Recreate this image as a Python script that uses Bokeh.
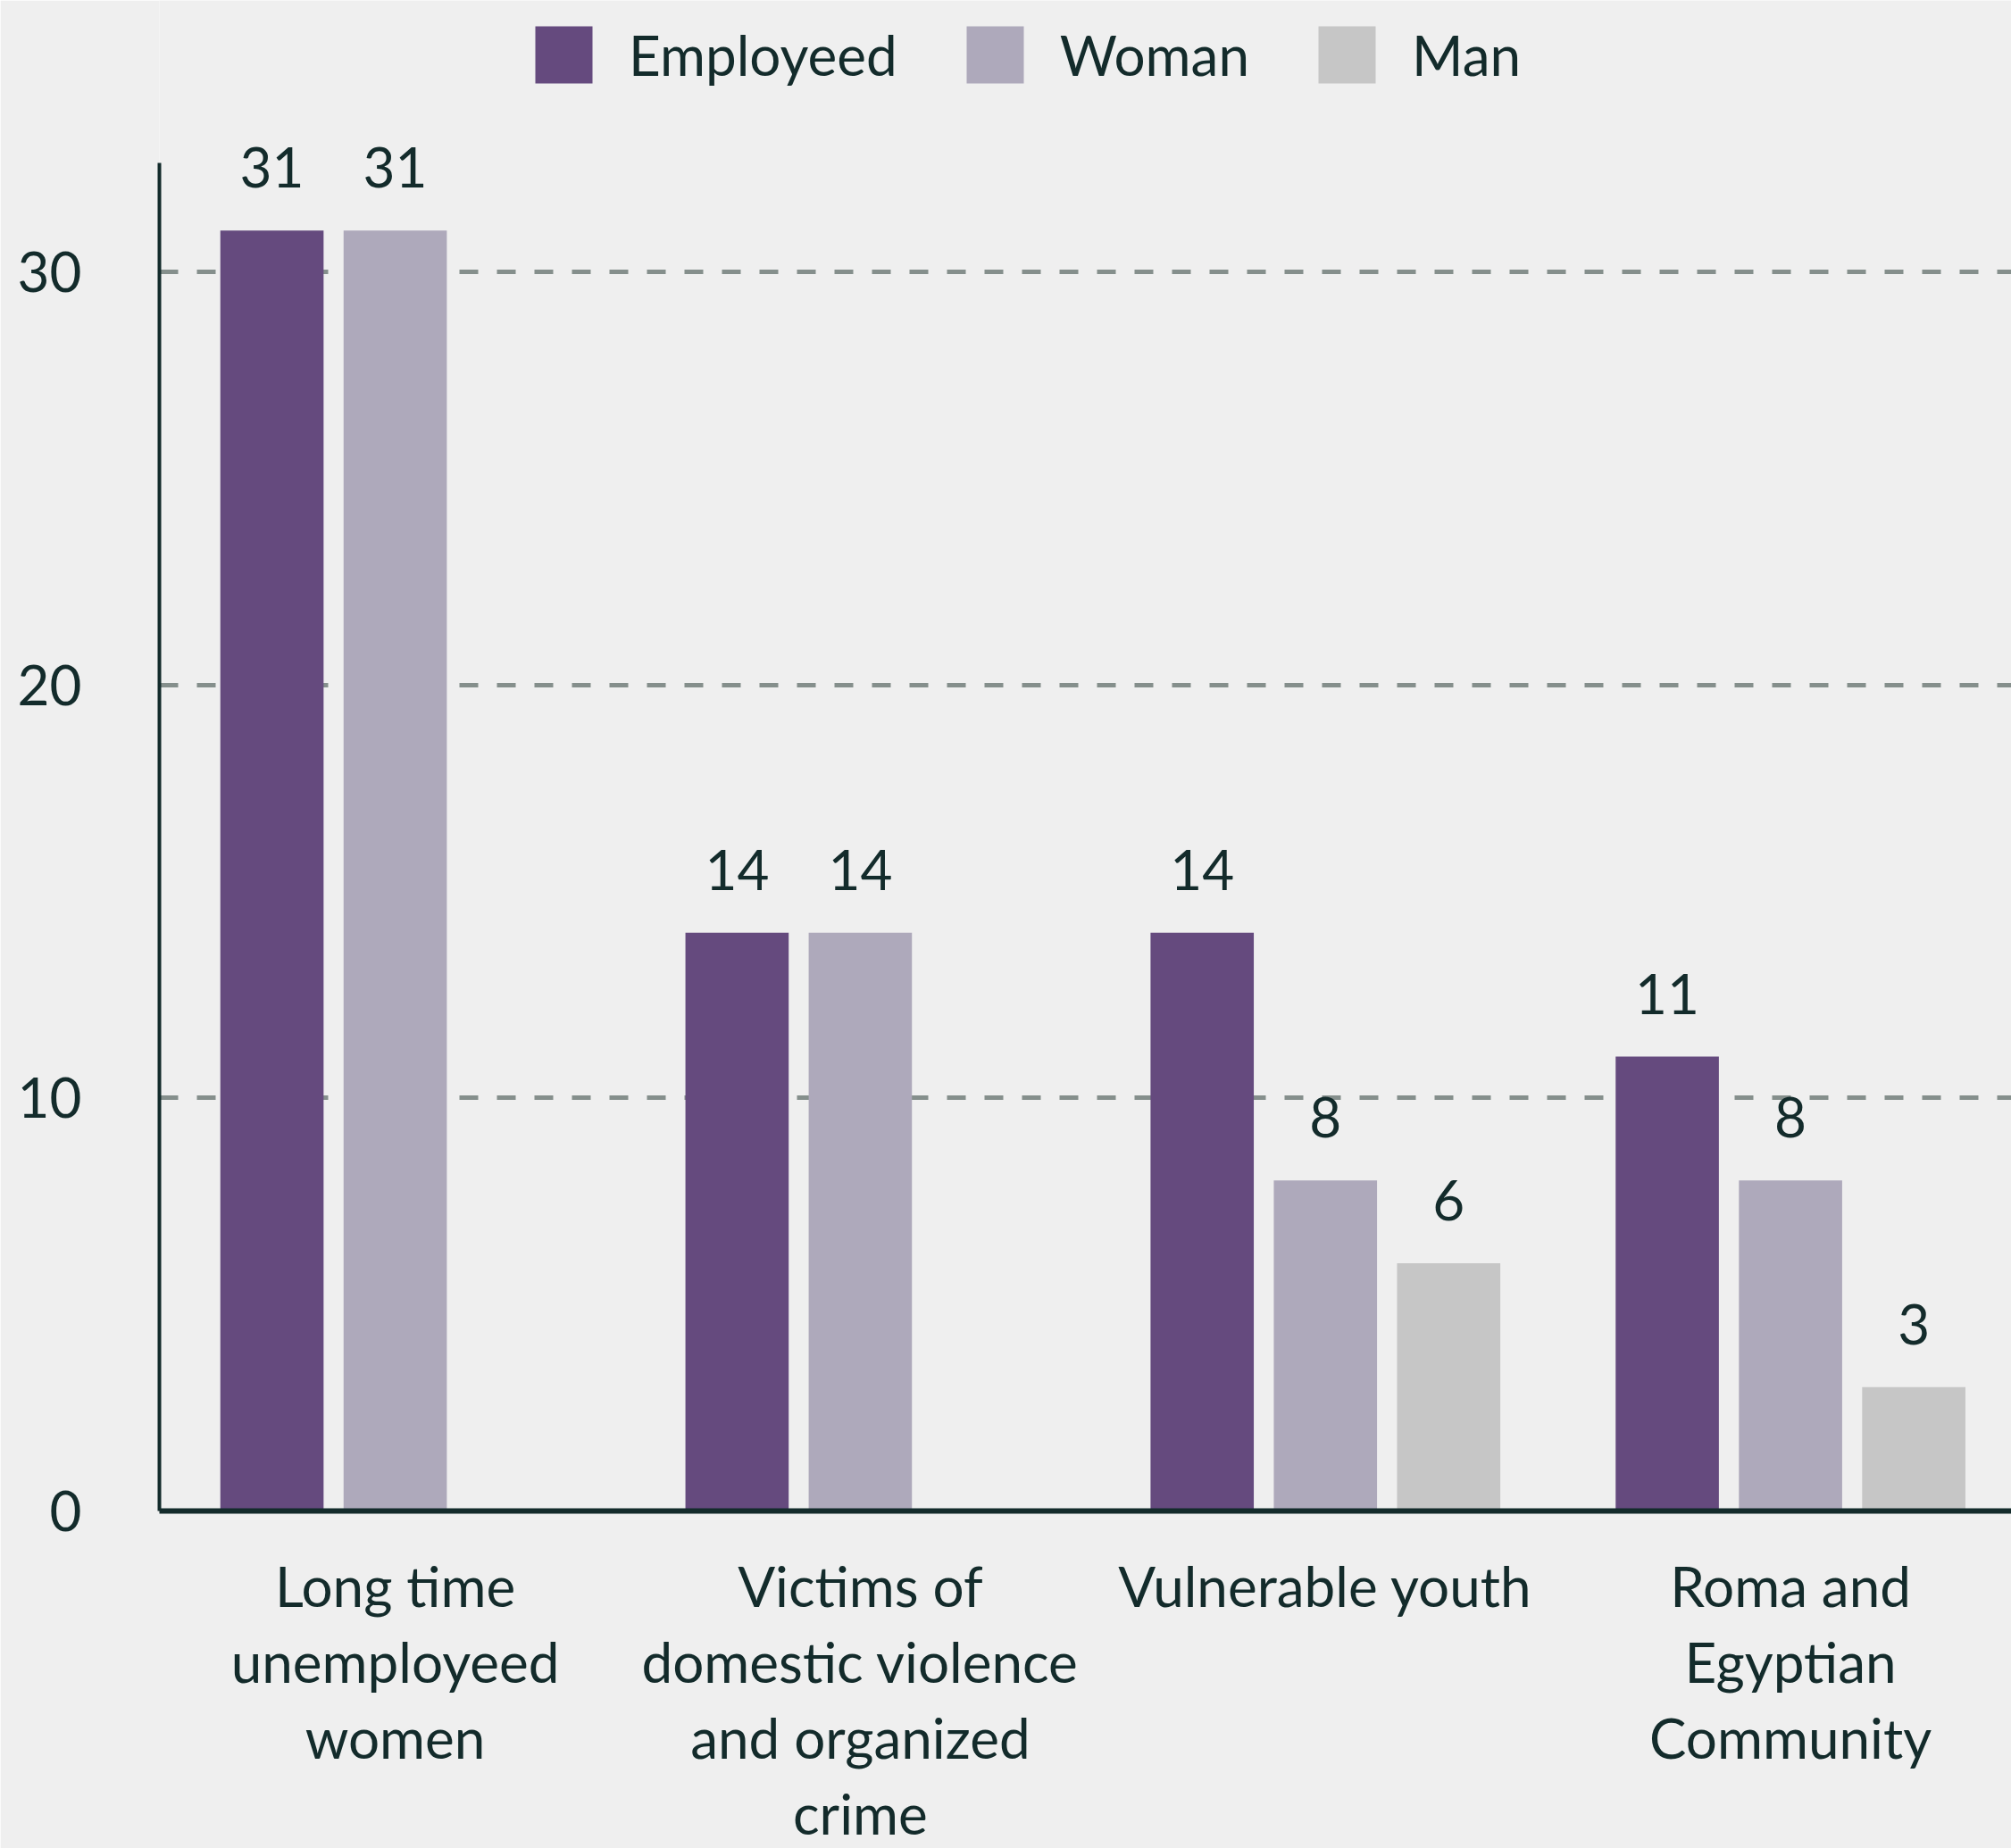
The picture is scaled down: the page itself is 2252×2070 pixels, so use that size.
import math
from bokeh.plotting import figure
from bokeh.models import (ColumnDataSource, LabelSet, Legend, LegendItem,
                          FixedTicker, Range1d)
from bokeh.core.properties import value
from bokeh.embed import file_html
from bokeh.resources import INLINE

# ---- data ----
categories = [
    "Long time\nunemployeed\nwomen",
    "Victims of\ndomestic violence\nand organized\ncrime",
    "Vulnerable youth",
    "Roma and\nEgyptian\nCommunity",
]
series_names = ["Employeed", "Woman", "Man"]
employed = [31, 14, 14, 11]
woman = [31, 14, 8, 8]
man = [None, None, 6, 3]
y_ticks = [0, 10, 20, 30]
y_axis_top = 32.64

# ---- style ----
colors = ["#654a7e", "#aea9bb", "#c6c6c6"]
offsets = [-0.265, 0.0, 0.265]
bar_w = 0.222
FONT = "Lato"
TXT = "#132b2b"
BG = "#efefef"
FS = "62px"

p = figure(width=2252, height=2070,
           x_range=Range1d(-0.507, 3.475), y_range=Range1d(0, 36.57),
           output_backend="svg", toolbar_location=None,
           min_border_left=178, min_border_top=0, min_border_bottom=375,
           min_border_right=0,
           background_fill_color=BG, border_fill_color=BG,
           outline_line_color=None)

renderers = []
for k, vals in enumerate([employed, woman, man]):
    xs = [i + offsets[k] for i in range(len(categories))]
    tops = [float("nan") if v is None else v for v in vals]
    texts = ["" if v is None else str(v) for v in vals]
    src = ColumnDataSource(dict(x=xs, top=tops, text=texts))
    r = p.vbar(x="x", top="top", bottom=0, width=bar_w, source=src,
               fill_color=colors[k], line_color=None)
    renderers.append(r)
    lbl = LabelSet(x="x", y="top", text="text", source=src,
                   text_align="center", text_baseline="alphabetic",
                   y_offset=48, text_font=value(FONT), text_font_size=value(FS),
                   text_color=TXT)
    p.add_layout(lbl)

# grid
p.xgrid.grid_line_color = None
p.ygrid.ticker = FixedTicker(ticks=y_ticks)
p.ygrid.grid_line_color = "#858f8c"
p.ygrid.grid_line_width = 5
p.ygrid.grid_line_dash = "21 21"

# y axis
p.yaxis.ticker = FixedTicker(ticks=y_ticks)
p.yaxis.bounds = (0, y_axis_top)
p.yaxis.major_tick_line_color = None
p.yaxis.minor_tick_line_color = None
p.yaxis.axis_line_color = TXT
p.yaxis.axis_line_width = 4
p.yaxis.major_label_standoff = 81
p.yaxis.major_label_text_font = FONT
p.yaxis.major_label_text_font_size = FS
p.yaxis.major_label_text_color = TXT

# x axis
p.xaxis.ticker = FixedTicker(ticks=list(range(len(categories))))
p.xaxis.major_label_overrides = {i: c for i, c in enumerate(categories)}
p.xaxis.major_tick_line_color = None
p.xaxis.minor_tick_line_color = None
p.xaxis.axis_line_color = TXT
p.xaxis.axis_line_width = 6
p.xaxis.major_label_standoff = 40
p.xaxis.major_label_text_font = FONT
p.xaxis.major_label_text_font_size = FS
p.xaxis.major_label_text_color = TXT
p.xaxis.major_label_text_line_height = 1.15

legend = Legend(items=[LegendItem(label=series_names[k], renderers=[renderers[k]])
                       for k in range(3)],
                location=(413, 1591), orientation="horizontal",
                padding=0, margin=0, spacing=69,
                glyph_width=80, glyph_height=80, label_standoff=33,
                label_text_font=FONT, label_text_font_size=FS,
                label_text_color=TXT, label_height=80,
                background_fill_alpha=0, border_line_alpha=0)
p.add_layout(legend, "center")

html = file_html(p, INLINE)
html = html.replace("<body>", '<body style="background:%s">' % BG, 1)
open("out.html", "w").write(html)
